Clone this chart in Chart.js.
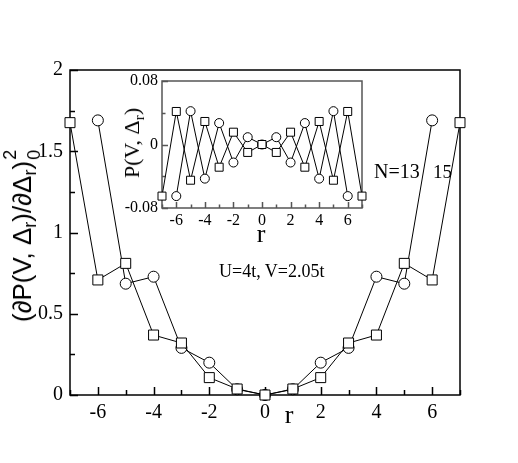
<!DOCTYPE html>
<html>
<head>
<meta charset="utf-8">
<script src="https://cdn.jsdelivr.net/npm/chart.js@4"></script>
<style>
  html, body { margin: 0; padding: 0; background: #fff; }
  #wrap { position: relative; width: 518px; height: 463px; }
  canvas { position: absolute; }
  #main { left: 0; top: 0; }
  #inset { left: 90px; top: 60px; }
  .lbl { position: absolute; line-height: 1; white-space: nowrap; color: #000; font-family: "Liberation Serif", serif; }
  .rot { transform: translate(-50%, -50%) rotate(-90deg); }
  .ctr { transform: translate(-50%, -50%); }
  sub { font-size: 0.7em; vertical-align: -0.3em; line-height: 0; }
  .ss { display: inline-block; position: relative; width: 13px; height: 18px; }
  .ss span { position: absolute; left: 1px; font-size: 18px; line-height: 1; }
  .ss .sp { top: -12px; }
  .ss .sb { top: 12px; }
</style>
</head>
<body>
<div id="wrap">
  <canvas id="main" width="518" height="463"></canvas>
  <canvas id="inset" width="290" height="200"></canvas>
  <div class="lbl rot" style="left:22px; top:235px; font-family:'Liberation Sans', sans-serif; font-size:26px;">(&part;P(V, &Delta;<sub>r</sub>)/&part;&Delta;<sub>r</sub>)<span class="ss"><span class="sp">2</span><span class="sb">0</span></span></div>
  <div class="lbl ctr" style="left:289px; top:415px; font-size:26px;">r</div>
  <div class="lbl rot" style="left:132px; top:143px; font-size:22px;">P(V, &Delta;<sub>r</sub>)</div>
  <div class="lbl ctr" style="left:261px; top:234px; font-size:26px;">r</div>
  <div class="lbl" style="left:219px; top:262px; font-size:18px;">U=4t, V=2.05t</div>
  <div class="lbl" style="left:374px; top:161px; font-size:20px;">N=13</div>
  <div class="lbl" style="left:433px; top:162px; font-size:19px;">15</div>
</div>
<script>
Chart.defaults.font.family = "'Liberation Serif', 'Times New Roman', serif";

// site index r for both system sizes
const rN15 = [-7, -6, -5, -4, -3, -2, -1, 0, 1, 2, 3, 4, 5, 6, 7];
const rN13 = [-6, -5, -4, -3, -2, -1, 0, 1, 2, 3, 4, 5, 6];

// main panel: (dP/dDelta_r)^2 at Delta=0
const derivN15 = [1.676, 0.708, 0.810, 0.369, 0.320, 0.107, 0.037, 0, 0.037, 0.107, 0.320, 0.369, 0.810, 0.708, 1.676];
const derivN13 = [1.690, 0.685, 0.728, 0.290, 0.199, 0.035, 0, 0.035, 0.199, 0.290, 0.728, 0.685, 1.690];

// inset: P(V, Delta_r)
const pN15 = [-0.065, 0.0416, -0.045, 0.029, -0.0286, 0.0155, -0.010, 0, -0.010, 0.0155, -0.0286, 0.029, -0.045, 0.0416, -0.065];
const pN13 = [-0.065, 0.042, -0.043, 0.027, -0.0227, 0.0092, 0, 0.0092, -0.0227, 0.027, -0.043, 0.042, -0.065];

// tick positions
const mainXMajor = [-6, -4, -2, 0, 2, 4, 6];
const mainXMinor = [-7, -5, -3, -1, 1, 3, 5, 7];
const mainYMajor = [0, 0.5, 1, 1.5, 2];
const mainYMinor = [0.25, 0.75, 1.25, 1.75];
const insetXMajor = [-6, -4, -2, 0, 2, 4, 6];
const insetXMinor = [-7, -5, -3, -1, 1, 3, 5, 7];
const insetYMajor = [-0.08, 0, 0.08];
const insetYMinor = [-0.04, 0.04];

const pts = (xs, ys) => xs.map((x, i) => ({ x, y: ys[i] }));

// box + inward ticks on bottom/left
const frameTicks = {
  id: 'frameTicks',
  beforeDatasetsDraw(chart, args, o) {
    const { ctx, chartArea: a, scales: { x, y } } = chart;
    ctx.save();
    ctx.strokeStyle = o.color;
    ctx.lineWidth = o.width;
    ctx.strokeRect(a.left, a.top, a.right - a.left, a.bottom - a.top);
    ctx.beginPath();
    const tx = (vals, len) => vals.forEach(v => {
      const p = Math.round(x.getPixelForValue(v)) + 0.5;
      ctx.moveTo(p, a.bottom); ctx.lineTo(p, a.bottom - len);
    });
    const ty = (vals, len) => vals.forEach(v => {
      const p = Math.round(y.getPixelForValue(v)) + 0.5;
      ctx.moveTo(a.left, p); ctx.lineTo(a.left + len, p);
    });
    tx(o.xMajor, o.major); tx(o.xMinor, o.minor);
    ty(o.yMajor, o.major); ty(o.yMinor, o.minor);
    ctx.stroke();
    ctx.restore();
  }
};

function series(data, style, size) {
  return {
    data,
    borderColor: '#000',
    borderWidth: 1,
    tension: 0,
    pointStyle: style,
    pointRadius: style === 'rect' ? size * 1.414 / 2 : size / 2,
    pointBorderColor: '#000',
    pointBackgroundColor: '#fff',
    pointBorderWidth: 1,
    clip: false
  };
}

function makeChart(id, cfg) {
  const tickFont = { family: "'Liberation Serif', 'Times New Roman', serif", size: cfg.fontSize };
  return new Chart(document.getElementById(id), {
    type: 'line',
    data: { datasets: cfg.datasets },
    plugins: [frameTicks],
    options: {
      responsive: false,
      animation: false,
      devicePixelRatio: 1,
      layout: { padding: cfg.padding },
      plugins: {
        legend: { display: false },
        tooltip: { enabled: false },
        frameTicks: cfg.ticks
      },
      scales: {
        x: {
          type: 'linear', min: cfg.xMin, max: cfg.xMax,
          grid: { display: false, drawTicks: false },
          border: { display: false },
          afterFit: s => { s.height = cfg.xHeight; },
          afterBuildTicks: s => { s.ticks = cfg.ticks.xMajor.map(v => ({ value: v })); },
          ticks: { autoSkip: false, maxRotation: 0, padding: cfg.xPad, color: '#000', font: tickFont }
        },
        y: {
          type: 'linear', min: cfg.yMin, max: cfg.yMax,
          grid: { display: false, drawTicks: false },
          border: { display: false },
          afterFit: s => { s.width = cfg.yWidth; },
          afterBuildTicks: s => { s.ticks = cfg.ticks.yMajor.map(v => ({ value: v })); },
          ticks: {
            autoSkip: false, padding: cfg.yPad, color: '#000', font: tickFont,
            callback: v => String(Math.round(v * 1000) / 1000)
          }
        }
      }
    }
  });
}

// main plot, area 70..460 x 70..395
makeChart('main', {
  datasets: [
    series(pts(rN15, derivN15), 'rect', 10),
    series(pts(rN13, derivN13), 'circle', 11)
  ],
  padding: { left: 0, top: 70, right: 58, bottom: 0 },
  xMin: -7, xMax: 7, yMin: 0, yMax: 2,
  xHeight: 68, yWidth: 70, xPad: 6, yPad: 7, fontSize: 20,
  ticks: { xMajor: mainXMajor, xMinor: mainXMinor, yMajor: mainYMajor, yMinor: mainYMinor,
           major: 8, minor: 5, color: '#000', width: 1.5 }
});

// inset, area 162..362 x 81..208 on page
makeChart('inset', {
  datasets: [
    series(pts(rN15, pN15), 'rect', 8),
    series(pts(rN13, pN13), 'circle', 9)
  ],
  padding: { left: 0, top: 21, right: 18, bottom: 0 },
  xMin: -7, xMax: 7, yMin: -0.08, yMax: 0.08,
  xHeight: 52, yWidth: 72, xPad: 3, yPad: 4, fontSize: 16,
  ticks: { xMajor: insetXMajor, xMinor: insetXMinor, yMajor: insetYMajor, yMinor: insetYMinor,
           major: 6, minor: 3.5, color: '#555', width: 1.5 }
});
</script>
</body>
</html>
